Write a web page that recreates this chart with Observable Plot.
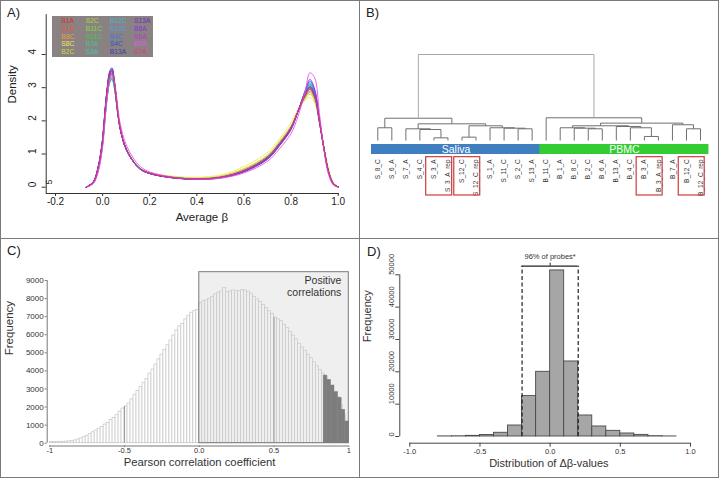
<!DOCTYPE html>
<html><head><meta charset="utf-8">
<script src="https://cdn.jsdelivr.net/npm/d3@7"></script>
<script src="https://cdn.jsdelivr.net/npm/@observablehq/plot@0.6"></script>
<style>
html,body{margin:0;padding:0;background:#fff;}
#fig{position:relative;width:719px;height:478px;font-family:"Liberation Sans",Arial,sans-serif;overflow:hidden;background:#fff;}
.panel{position:absolute;}
.panel svg{display:block;overflow:visible;}
.lbl{position:absolute;font-size:13px;color:#222;line-height:13px;}
.bline{position:absolute;background:#7a7a7a;}
#legend{position:absolute;left:52px;top:16px;width:101px;height:41px;background:#8a8282;}
#legend span{position:absolute;font-size:6.8px;line-height:7px;height:7px;white-space:nowrap;}
</style></head><body>
<div id="fig">
  <div class="panel" id="pA" style="left:0;top:0"></div>
  <div class="panel" id="pB" style="left:359px;top:0"></div>
  <div class="panel" id="pC" style="left:0;top:239px"></div>
  <div class="panel" id="pD" style="left:359px;top:239px"></div>
  <div id="legend"></div>
  <div class="lbl" style="left:7px;top:6px">A)</div>
  <div class="lbl" style="left:366px;top:6px">B)</div>
  <div class="lbl" style="left:7px;top:244px">C)</div>
  <div class="lbl" style="left:367px;top:245px">D)</div>
  <div class="bline" style="left:0;top:0;width:719px;height:1px"></div>
  <div class="bline" style="left:0;top:477px;width:719px;height:1px"></div>
  <div class="bline" style="left:0;top:0;width:1px;height:478px"></div>
  <div class="bline" style="left:718px;top:0;width:1px;height:478px"></div>
  <div class="bline" style="left:359px;top:0;width:1px;height:478px"></div>
  <div class="bline" style="left:0;top:238px;width:719px;height:1px"></div>
</div>
<script>
// ---------------- Panel A data ----------------
const samples = ["B1A","S1A","B8C","S8C","B2C","S2C","B11C","S11C","B3A","S3A","B12C","S12C","B4C","S4C","B13A","S13A","B6A","S6A","B7A","S7A"];
const sampleColors = ["#e02a2a","#e8543a","#f09a3a","#ecec50","#c8d848","#a6dc40","#7ed84a","#3ecb4a","#38c888","#38c8b0","#38b8d8","#4aa0e8","#3a78e0","#3050d0","#4040a8","#6a30c0","#8a30d8","#b038c8","#e850e8","#e03878"];
const betaGrid = [-0.07,-0.04,-0.02,0.0,0.01,0.02,0.03,0.04,0.05,0.06,0.07,0.085,0.1,0.13,0.16,0.2,0.3,0.4,0.5,0.6,0.7,0.75,0.8,0.83,0.86,0.88,0.9,0.92,0.94,0.96,0.98,1.0];
const dB1A  = [0,0.15,0.55,1.4,2.25,2.95,3.4,3.5,3.15,2.55,1.95,1.45,1.15,0.78,0.55,0.42,0.29,0.25,0.3,0.5,0.9,1.3,1.8,2.3,2.8,3.0,2.75,2.0,1.15,0.45,0.1,0.01];
const dS1A  = [0,0.14,0.55,1.38,2.2,2.9,3.35,3.45,3.1,2.5,1.95,1.45,1.15,0.78,0.56,0.43,0.3,0.26,0.31,0.52,0.92,1.32,1.8,2.28,2.72,2.9,2.68,1.98,1.15,0.46,0.1,0.01];
const dB8C  = [0,0.14,0.52,1.35,2.15,2.85,3.3,3.4,3.05,2.48,1.93,1.45,1.16,0.79,0.56,0.43,0.31,0.27,0.33,0.55,0.95,1.36,1.85,2.3,2.7,2.85,2.62,1.95,1.15,0.47,0.11,0.01];
const dS8C  = [0,0.13,0.5,1.3,2.1,2.75,3.2,3.3,3.0,2.45,1.92,1.46,1.17,0.8,0.57,0.44,0.33,0.3,0.37,0.62,1.05,1.45,1.95,2.35,2.62,2.7,2.55,2.0,1.25,0.55,0.14,0.02];
const dB2C  = [0,0.13,0.52,1.32,2.12,2.8,3.25,3.35,3.05,2.48,1.94,1.46,1.16,0.79,0.56,0.43,0.31,0.27,0.33,0.56,0.97,1.38,1.86,2.3,2.66,2.8,2.6,1.95,1.18,0.48,0.12,0.01];
const dS2C  = [0,0.13,0.5,1.3,2.1,2.78,3.2,3.3,3.02,2.46,1.93,1.45,1.15,0.78,0.55,0.42,0.3,0.26,0.31,0.52,0.93,1.33,1.82,2.3,2.74,2.9,2.68,1.97,1.14,0.45,0.1,0.01];
const dB11C = [0,0.14,0.53,1.36,2.16,2.86,3.3,3.4,3.06,2.48,1.94,1.45,1.15,0.78,0.55,0.42,0.29,0.25,0.3,0.5,0.9,1.3,1.8,2.3,2.8,3.0,2.76,2.0,1.14,0.44,0.1,0.01];
const dS11C = [0,0.13,0.5,1.3,2.1,2.78,3.2,3.3,3.02,2.47,1.94,1.46,1.16,0.78,0.55,0.42,0.29,0.25,0.29,0.49,0.88,1.28,1.78,2.3,2.82,3.05,2.8,2.02,1.14,0.43,0.09,0.01];
const dB3A  = [0,0.12,0.48,1.28,2.06,2.74,3.15,3.25,3.0,2.46,1.94,1.47,1.17,0.79,0.56,0.42,0.29,0.25,0.29,0.48,0.87,1.27,1.77,2.3,2.85,3.1,2.84,2.04,1.14,0.43,0.09,0.01];
const dS3A  = [0,0.12,0.48,1.28,2.06,2.74,3.15,3.25,3.0,2.46,1.94,1.47,1.17,0.79,0.56,0.42,0.29,0.25,0.29,0.48,0.86,1.26,1.76,2.3,2.87,3.15,2.88,2.05,1.14,0.42,0.09,0.01];
const dB12C = [0,0.13,0.5,1.3,2.1,2.78,3.2,3.3,3.02,2.46,1.93,1.46,1.16,0.78,0.55,0.42,0.29,0.25,0.29,0.48,0.86,1.26,1.76,2.3,2.88,3.15,2.88,2.04,1.13,0.42,0.09,0.01];
const dS12C = [0,0.14,0.53,1.36,2.16,2.86,3.3,3.4,3.06,2.48,1.94,1.45,1.15,0.78,0.55,0.42,0.29,0.25,0.29,0.49,0.87,1.27,1.77,2.3,2.86,3.1,2.85,2.03,1.14,0.43,0.09,0.01];
const dB4C  = [0,0.16,0.57,1.45,2.3,3.0,3.45,3.55,3.18,2.56,1.96,1.45,1.14,0.77,0.54,0.41,0.28,0.24,0.28,0.47,0.85,1.25,1.75,2.3,2.9,3.2,2.92,2.06,1.14,0.42,0.09,0.01];
const dS4C  = [0,0.16,0.58,1.47,2.33,3.03,3.5,3.6,3.2,2.57,1.96,1.45,1.14,0.77,0.54,0.41,0.28,0.24,0.29,0.49,0.89,1.29,1.79,2.3,2.8,3.0,2.76,2.0,1.15,0.45,0.1,0.01];
const dB13A = [0,0.15,0.56,1.42,2.26,2.96,3.4,3.5,3.15,2.54,1.95,1.45,1.15,0.78,0.55,0.42,0.29,0.25,0.3,0.5,0.91,1.31,1.8,2.3,2.76,2.95,2.72,1.99,1.15,0.45,0.1,0.01];
const dS13A = [0,0.16,0.57,1.45,2.3,3.0,3.45,3.55,3.18,2.56,1.96,1.45,1.14,0.77,0.54,0.41,0.28,0.24,0.29,0.49,0.88,1.28,1.78,2.3,2.82,3.05,2.8,2.02,1.14,0.44,0.1,0.01];
const dB6A  = [0,0.15,0.56,1.42,2.26,2.96,3.4,3.5,3.15,2.54,1.95,1.45,1.14,0.77,0.54,0.41,0.28,0.24,0.28,0.46,0.84,1.24,1.74,2.3,2.92,3.25,2.96,2.08,1.14,0.41,0.09,0.01];
const dS6A  = [0,0.14,0.55,1.38,2.2,2.9,3.35,3.45,3.1,2.52,1.96,1.46,1.15,0.78,0.55,0.42,0.29,0.25,0.3,0.5,0.9,1.3,1.8,2.3,2.8,3.0,2.76,2.0,1.15,0.45,0.1,0.01];
const dB7A  = [0,0.1,0.42,1.2,2.0,2.72,3.2,3.4,3.2,2.7,2.1,1.6,1.28,0.88,0.62,0.46,0.3,0.24,0.27,0.43,0.78,1.15,1.62,2.15,2.9,3.45,3.3,2.25,1.1,0.35,0.06,0.0];
const dS7A  = [0,0.15,0.56,1.42,2.26,2.96,3.4,3.5,3.15,2.54,1.95,1.45,1.15,0.78,0.55,0.42,0.29,0.25,0.3,0.5,0.9,1.3,1.8,2.3,2.8,3.0,2.75,2.0,1.15,0.45,0.1,0.01];
const densities = [dB1A,dS1A,dB8C,dS8C,dB2C,dS2C,dB11C,dS11C,dB3A,dS3A,dB12C,dS12C,dB4C,dS4C,dB13A,dS13A,dB6A,dS6A,dB7A,dS7A];
const aXTicks = [-0.2, 0.0, 0.2, 0.4, 0.6, 0.8, 1.0];
const aYTicks = [0, 1, 2, 3, 4];

// ---------------- Panel B data ----------------
const leafNames = ["S_8_C","S_6_A","S_7_A","S_4_C","S_3_A","S_3_A_rep","S_12_C","S_12_C_rep","S_1_A","S_11_C","S_2_C","S_13_A","B_11_C","B_1_A","B_8_C","B_2_C","B_6_A","B_13_A","B_4_C","B_3_A","B_3_A_rep","B_7_A","B_12_C","B_12_C_rep"];
// R hclust-like merges: negative = leaf (1-based display position), positive = earlier merge
const mergeLeft   = [-5, -7, -20, -4, -3, -11, -10, -9, -1, -16, -15, -14, -19, -18, 12, -23, -22, 15, -13, 2, 5, 9, 22];
const mergeRight  = [-6, -8, -21,  1,  4, -12,   6,  7, -2, -17,  10,  11,   3,  13, 14, -24,  16, 17,  18, 8, 20, 21, 19];
const mergeHeight = [3.1,3.9,4.7,12.8,13.6,13.6,14.3,14.8,14.8,13.6,14.3,14.8,14.8,16.3,17.1,13.6,18.3,20.2,26.4,17.1,19.4,25.9,100];
const tissueGroups = ["Saliva","PBMC"];
const tissueFirst = [0, 12];
const tissueLast = [11, 23];
const tissueColors = ["#3f7fbf","#33cc33"];
const replicatePairs = [[4,5],[6,7],[19,20],[22,23]];

// ---------------- Panel C data ----------------
const corrBinStart = -1, corrBinWidth = 0.02;
const corrCounts = [
  60,60,70,70,80,90,100,120,
  150,200,260,330,400,500,600,700,800,900,
  1030,1120,1280,1400,1550,1750,1920,2030,2200,2420,
  2680,2900,3100,3320,3560,3850,4080,4350,4640,4900,
  5150,5420,5680,5960,6240,6460,6600,6850,7050,7220,
  7320,7380,
  7750,7850,7900,7990,8100,8230,8330,8400,8580,8350,
  8400,8450,8400,8420,8480,8450,8380,8280,8100,7950,
  7820,7650,7480,7300,7150,6950,6850,6750,6550,6380,
  6150,5950,5750,5500,5300,5100,4900,4700,4480,4250,
  4050,3850,3700,3450,3150,2850,2550,2100,1600,1200];
const strongEdges = [0.832,0.856,0.88,0.904,0.928,0.952,0.976,1.0];
const strongCounts = [3740,3500,3190,2820,2510,1850,1200];
const cXTicks = [-1, -0.5, 0, 0.5, 1];
const cXTickLabels = ["-1","-0.5","0.0","0.5","1"];
const cYTicks = [0,1000,2000,3000,4000,5000,6000,7000,8000,9000];
const cMarkLines = [-0.5, 0.5];
const positiveRegion = {x1: 0, x2: 1, top: 9460};

// ---------------- Panel D data ----------------
const deltaBinStart = -0.8, deltaBinWidth = 0.1;
const deltaCounts = [30,60,200,450,1150,3400,12500,20000,51350,23200,6500,3100,1750,930,500,100,20];
const dXTicks = [-1.0,-0.5,0.0,0.5,1.0];
const dYTicks = [0,10000,20000,30000,40000,50000];
const bracketEnds = [-0.2, 0.2];
const bracketLevel = 52660;
const bracketLabel = "96% of probes*";

const FONT = "Liberation Sans, Arial, Helvetica, sans-serif";
const baseStyle = {background: "transparent", fontFamily: FONT, color: "#222", overflow: "visible"};

// ================= Panel A =================
const densityRows = samples.flatMap((s, k) => betaGrid.map((b, i) => ({sample: s, beta: b, density: densities[k][i]})));
const plotA = Plot.plot({
  width: 359, height: 238,
  marginLeft: 45.7, marginBottom: 45, marginTop: 13, marginRight: 20,
  style: baseStyle,
  x: {domain: [-0.2, 1.0], range: [55, 337.7]},
  y: {domain: [0, 4], range: [186.7, 54]},
  color: {domain: samples, range: sampleColors},
  marks: [
    Plot.ruleY([-0.19], {x1: -0.2394, x2: 1.0055, stroke: "#333", strokeWidth: 1}),
    Plot.ruleX([-0.2394], {y1: -0.19, y2: 5.2, stroke: "#333", strokeWidth: 1}),
    Plot.axisX(aXTicks, {anchor: "bottom", label: null, tickSize: 3, tickPadding: 1, fontSize: 10, tickFormat: d => d.toFixed(1), stroke: "#333"}),
    Plot.axisY(aYTicks, {anchor: "left", label: null, tickSize: 4, tickFormat: () => "", stroke: "#333"}),
    Plot.text(aYTicks, {y: d => d, frameAnchor: "left", dx: -13.5, rotate: -90, text: d => String(d), fontSize: 10, fill: "#222"}),
    Plot.text(["5"], {y: () => 0.08, frameAnchor: "left", dx: 3, rotate: -90, text: d => d, fontSize: 9, fill: "#222"}),
    Plot.text(["Density"], {frameAnchor: "left", dx: -34, rotate: -90, text: d => d, fontSize: 11.5, fill: "#222"}),
    Plot.text(["Average β"], {frameAnchor: "bottom", dx: 9, dy: 27, text: d => d, fontSize: 11.5, fill: "#222"}),
    Plot.line(densityRows, {x: "beta", y: "density", z: "sample", stroke: "sample", strokeWidth: 0.9, curve: "catmull-rom"})
  ]
});
document.getElementById("pA").append(plotA);

// legend (HTML)
const legend = document.getElementById("legend");
const colLeft = [9.3, 33.7, 57.7, 82];
const rowTop = [1.2, 8.9, 16.6, 24.3, 32];
samples.forEach((s, i) => {
  const c = Math.floor(i / 5), r = i % 5;
  const sp = document.createElement("span");
  sp.textContent = s;
  sp.style.left = colLeft[c] + "px";
  sp.style.top = rowTop[r] + "px";
  sp.style.color = sampleColors[i];
  legend.append(sp);
});

// ================= Panel B =================
const nodeX = [], nodeH = [];
const refNode = r => r < 0 ? {x: -r - 1, h: 0} : {x: nodeX[r - 1], h: nodeH[r - 1]};
const segs = [];
mergeLeft.forEach((l, k) => {
  const a = refNode(l), b = refNode(mergeRight[k]), h = mergeHeight[k];
  nodeX.push((a.x + b.x) / 2); nodeH.push(h);
  const top = h > 50;
  segs.push({x1: a.x, y1: a.h, x2: a.x, y2: h, top},
            {x1: a.x, y1: h, x2: b.x, y2: h, top},
            {x1: b.x, y1: h, x2: b.x, y2: b.h, top});
});
const groupRows = tissueGroups.map((g, i) => ({g, x1: tissueFirst[i] - 0.45, x2: tissueLast[i] + 0.6, color: tissueColors[i]}));
const plotB = Plot.plot({
  width: 360, height: 238, margin: 0,
  style: baseStyle,
  x: {domain: [0, 23], range: [18.3, 341], axis: null},
  y: {domain: [0, 100], range: [140, 54], axis: null},
  marks: [
    Plot.link(segs, {x1: "x1", y1: "y1", x2: "x2", y2: "y2", stroke: d => d.top ? "#a8a8a8" : "#707070", strokeWidth: 1}),
    Plot.rect(groupRows, {x1: "x1", x2: "x2", y1: -4.65, y2: -16.3, fill: "color"}),
    Plot.text(groupRows, {x: d => (d.x1 + d.x2) / 2, y: -10.6, text: "g", fill: "white", fontSize: 10.5}),
    Plot.text(leafNames, {x: (d, i) => i, y: -22, rotate: -90, textAnchor: "end", text: d => d, fontSize: 6.5, fill: "#333"}),
    Plot.rect(replicatePairs, {x1: d => d[0] - 0.55, x2: d => d[1] + 0.3, y1: -19.4, y2: -63.95, fill: "none", stroke: "#d03a3a", strokeWidth: 1.2})
  ]
});
document.getElementById("pB").append(plotB);

// ================= Panel C =================
const corrRows = corrCounts.map((c, i) => ({x1: corrBinStart + i * corrBinWidth, x2: corrBinStart + (i + 1) * corrBinWidth, count: c}));
const strongRows = strongCounts.map((c, i) => ({x1: strongEdges[i], x2: strongEdges[i + 1], count: c}));
const countAt = v => corrCounts[Math.round((v - corrBinStart) / corrBinWidth)];
const plotC = Plot.plot({
  width: 359, height: 239,
  marginLeft: 46.7, marginBottom: 32.5, marginTop: 25, marginRight: 10.7,
  style: baseStyle,
  x: {domain: [-1, 1], range: [49.3, 348.3]},
  y: {domain: [0, 9000], range: [203.7, 41]},
  marks: [
    Plot.rect(corrRows, {x1: "x1", x2: "x2", y1: 0, y2: "count", fill: "white", stroke: "#c4c4c4", strokeWidth: 0.7}),
    Plot.rect([positiveRegion], {x1: "x1", x2: "x2", y1: 0, y2: "top", fill: "#cfcfcf", fillOpacity: 0.33}),
    Plot.rect(strongRows, {x1: "x1", x2: "x2", y1: 0, y2: "count", fill: "#7d7d7d", stroke: "#7d7d7d", strokeWidth: 0.5}),
    Plot.ruleX(cMarkLines, {x: d => d, y1: 0, y2: d => countAt(d), stroke: "#9a9a9a", strokeWidth: 1}),
    Plot.rect([positiveRegion], {x1: "x1", x2: "x2", y1: 0, y2: "top", fill: "none", stroke: "#7a7a7a", strokeWidth: 1}),
    Plot.text(["Positive\ncorrelations"], {x: () => 0.95, y: () => 9290, text: d => d, textAnchor: "end", lineAnchor: "top", lineHeight: 1.15, fontSize: 10.5, fill: "#333"}),
    Plot.ruleX([-1.0174], {y1: 0, y2: 9000, stroke: "#777", strokeWidth: 1}),
    Plot.ruleY([-155], {x1: -1, x2: 1, stroke: "#777", strokeWidth: 1}),
    Plot.axisY(cYTicks, {anchor: "left", label: null, tickSize: 2, tickPadding: 1.5, fontSize: 8, tickFormat: d => String(d), stroke: "#777", fill: "#333"}),
    Plot.axisX(cXTicks, {anchor: "bottom", label: null, tickSize: 1.5, tickPadding: 0, fontSize: 7.5, tickFormat: d => cXTickLabels[cXTicks.indexOf(d)], stroke: "#777", fill: "#333"}),
    Plot.text(["Frequency"], {frameAnchor: "left", dx: -38, rotate: -90, text: d => d, fontSize: 11.5, fill: "#333"}),
    Plot.text(["Pearson correlation coefficient"], {frameAnchor: "bottom", dx: 1.5, dy: 20, text: d => d, fontSize: 11.3, fill: "#333"})
  ]
});
document.getElementById("pC").append(plotC);

// ================= Panel D =================
const deltaRows = deltaCounts.map((c, i) => ({x1: deltaBinStart + i * deltaBinWidth, x2: deltaBinStart + (i + 1) * deltaBinWidth, count: c}));
const plotD = Plot.plot({
  width: 360, height: 239,
  marginLeft: 40.3, marginBottom: 35.3, marginTop: 1.7, marginRight: 29,
  style: baseStyle,
  x: {domain: [-1, 1], range: [50.3, 331]},
  y: {domain: [0, 50000], range: [197, 35.3]},
  marks: [
    Plot.rect(deltaRows, {x1: "x1", x2: "x2", y1: 0, y2: "count", fill: "#a6a6a6", stroke: "#4a4a4a", strokeWidth: 0.9}),
    Plot.ruleX(bracketEnds, {x: d => d, y1: 0, y2: bracketLevel, stroke: "#222", strokeWidth: 1.2, strokeDasharray: "4,2.5"}),
    Plot.ruleY([bracketLevel], {x1: bracketEnds[0], x2: bracketEnds[1], stroke: "#222", strokeWidth: 1.2}),
    Plot.ruleX([0], {y1: bracketLevel, y2: bracketLevel + 950, stroke: "#222", strokeWidth: 1}),
    Plot.text([bracketLabel], {x: () => 0, y: () => bracketLevel + 3000, text: d => d, fontSize: 7.5, fill: "#333"}),
    Plot.ruleX([-1.0713], {y1: 0, y2: 50000, stroke: "#444", strokeWidth: 1}),
    Plot.ruleY([-2072], {x1: -1, x2: 1, stroke: "#444", strokeWidth: 1}),
    Plot.axisX(dXTicks, {anchor: "bottom", label: null, tickSize: 4, tickPadding: 1, fontSize: 7.5, tickFormat: d => d.toFixed(1), stroke: "#444", fill: "#333"}),
    Plot.axisY(dYTicks, {anchor: "left", label: null, tickSize: 4, tickFormat: () => "", stroke: "#444"}),
    Plot.text(dYTicks, {y: d => d, frameAnchor: "left", dx: -8, rotate: -90, text: d => String(d), fontSize: 7.5, fill: "#333"}),
    Plot.text(["Frequency"], {frameAnchor: "left", dx: -32, rotate: -90, text: d => d, fontSize: 11, fill: "#333"}),
    Plot.text(["Distribution of Δβ-values"], {frameAnchor: "bottom", dx: 3.7, dy: 24, text: d => d, fontSize: 11, fill: "#333"})
  ]
});
document.getElementById("pD").append(plotD);
</script>
</body></html>
